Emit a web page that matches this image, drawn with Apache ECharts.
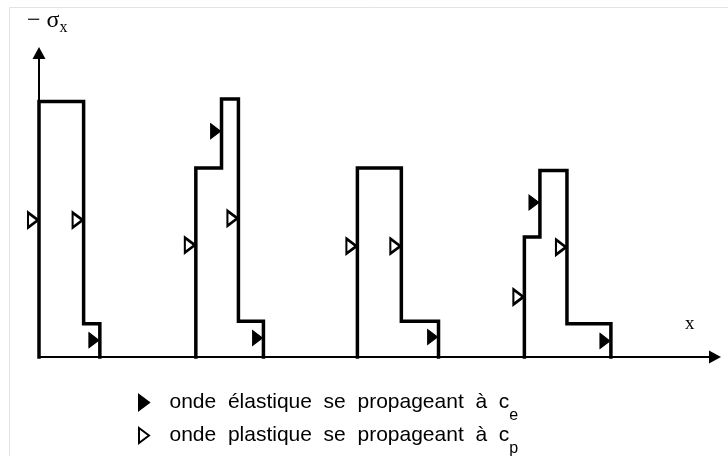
<!DOCTYPE html>
<html>
<head>
<meta charset="utf-8">
<script src="https://cdn.jsdelivr.net/npm/echarts@6/dist/echarts.min.js"></script>
<style>
html, body { margin: 0; padding: 0; background: #fff; }
#chart { width: 728px; height: 456px; }
</style>
</head>
<body>
<div id="chart"></div>
<script>
// profils de -sigma_x le long de x, a quatre instants successifs
var profil1 = [[0, 0], [0, 1.0], [6.6, 1.0], [6.6, 0.13], [9.0, 0.13], [9.0, 0]]
var profil2 = [[23.2, 0], [23.2, 0.74], [27.0, 0.74], [27.0, 1.01], [29.5, 1.01], [29.5, 0.14], [33.2, 0.14], [33.2, 0]]
var profil3 = [[47.1, 0], [47.1, 0.74], [53.6, 0.74], [53.6, 0.14], [59.1, 0.14], [59.1, 0]]
var profil4 = [[71.8, 0], [71.8, 0.47], [74.1, 0.47], [74.1, 0.73], [78.1, 0.73], [78.1, 0.13], [84.6, 0.13], [84.6, 0]]

// fronts d'onde (triangles)
var elastique = [[9.0, 0.066], [27.0, 0.884], [33.2, 0.074], [59.1, 0.078], [74.1, 0.605], [84.6, 0.063]]
var plastique = [[0, 0.536], [6.6, 0.536], [23.2, 0.438], [29.5, 0.543], [47.1, 0.434], [53.6, 0.434], [71.8, 0.235], [78.1, 0.43]]

var legendeE = 'onde  élastique  se  propageant  à  c'
var legendeP = 'onde  plastique  se  propageant  à  c'

var tri = 'path://M0,0L10,7.5L0,15Z'

var chart = echarts.init(document.getElementById('chart'))

function profilSerie (data) {
  return {
    type: 'line',
    data: data,
    showSymbol: false,
    clip: false,
    silent: true,
    z: 2,
    lineStyle: { color: '#000', width: 3.5, join: 'miter', cap: 'square' }
  }
}

var axe = {
  show: true,
  onZero: false,
  symbol: ['none', 'triangle'],
  symbolSize: [13, 12],
  lineStyle: { color: '#000', width: 2 }
}

var legendeTexte = {
  fontFamily: 'Liberation Sans',
  fontSize: 21,
  color: '#000',
  rich: {
    n: { fontFamily: 'Liberation Sans', fontSize: 21, color: '#000', lineHeight: 42, verticalAlign: 'middle', padding: [0, 0, 0, 15] },
    s: { fontFamily: 'Liberation Sans', fontSize: 16, color: '#000', lineHeight: 37, verticalAlign: 'bottom' }
  }
}

var option = {
  backgroundColor: '#fff',
  animation: false,
  grid: { left: 39, right: 13, top: 53, bottom: 99 },
  xAxis: {
    type: 'value',
    min: 0,
    max: 100,
    axisLine: axe,
    axisTick: { show: false },
    axisLabel: { show: false },
    splitLine: { show: false }
  },
  yAxis: {
    type: 'value',
    min: 0,
    max: 1.19,
    axisLine: axe,
    axisTick: { show: false },
    axisLabel: { show: false },
    splitLine: { show: false }
  },
  legend: [
    {
      data: [{ name: 'ce', icon: tri }],
      left: 138,
      top: 392,
      padding: 0,
      itemWidth: 11,
      itemHeight: 15,
      selectedMode: false,
      formatter: function () { return '{n|' + legendeE + '}{s|e}' },
      textStyle: legendeTexte
    },
    {
      data: [{ name: 'cp', icon: tri }],
      left: 138,
      top: 425,
      padding: 0,
      itemWidth: 11,
      itemHeight: 15,
      selectedMode: false,
      formatter: function () { return '{n|' + legendeP + '}{s|p}' },
      textStyle: legendeTexte
    }
  ],
  graphic: [
    {
      type: 'rect',
      z: -10,
      silent: true,
      shape: { x: 9.5, y: 7.5, width: 760, height: 480 },
      style: { fill: 'none', stroke: '#e3e3e3', lineWidth: 1 }
    },
    {
      type: 'text',
      left: 27,
      top: 9,
      silent: true,
      style: {
        text: '{m|− σ}{s|x}',
        rich: {
          m: { fontFamily: 'Liberation Serif', fontSize: 24, color: '#000', lineHeight: 30, verticalAlign: 'middle' },
          s: { fontFamily: 'Liberation Serif', fontSize: 16, color: '#000', lineHeight: 20, verticalAlign: 'bottom' }
        }
      }
    },
    {
      type: 'text',
      left: 685,
      top: 315,
      silent: true,
      style: { text: 'x', fontFamily: 'Liberation Serif', fontSize: 19, fill: '#000' }
    }
  ],
  series: [
    profilSerie(profil1),
    profilSerie(profil2),
    profilSerie(profil3),
    profilSerie(profil4),
    {
      name: 'ce',
      type: 'scatter',
      data: elastique,
      symbol: tri,
      symbolSize: [10, 15],
      symbolOffset: [-6, 0],
      z: 5,
      itemStyle: { color: '#000', borderColor: '#000', borderWidth: 1, opacity: 1 }
    },
    {
      name: 'cp',
      type: 'scatter',
      data: plastique,
      symbol: tri,
      symbolSize: [10, 15],
      symbolOffset: [-6, 0],
      z: 5,
      itemStyle: { color: '#fff', borderColor: '#000', borderWidth: 2.5, opacity: 1 }
    }
  ]
}

chart.setOption(option)
</script>
</body>
</html>
